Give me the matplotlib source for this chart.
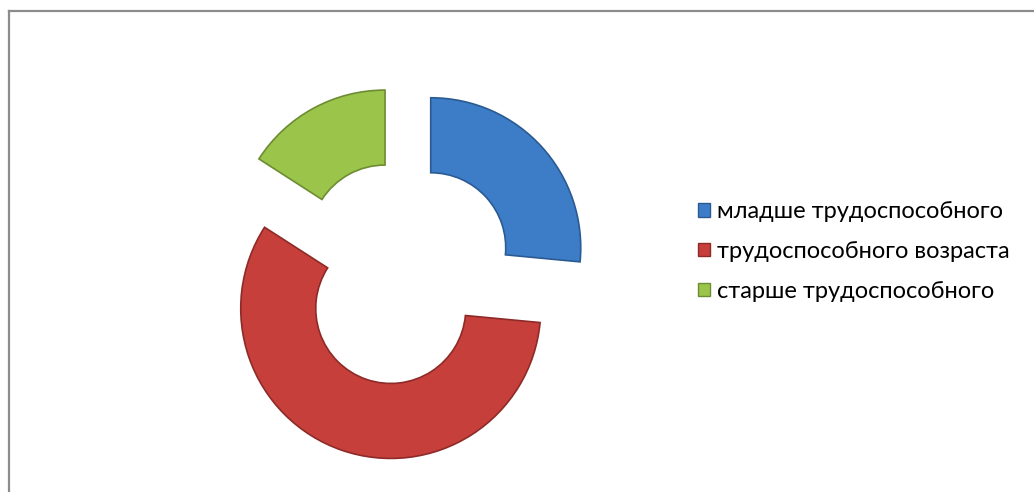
import matplotlib
matplotlib.use("Agg")
import matplotlib.pyplot as plt
from matplotlib.lines import Line2D

plt.rcParams['font.family'] = ['Lato', 'DejaVu Sans']

labels = ['младше трудоспособного', 'трудоспособного возраста', 'старше трудоспособного']
values = [26.5, 57.6, 15.9]
colors = ['#3d7dc8', '#c63f3b', '#9ac44a']
edges = ['#2b5a92', '#8e2a27', '#6d8c33']

fig = plt.figure(figsize=(10.34, 4.92), dpi=100)

# frame lines (top and left visible in the reference)
fig.add_artist(Line2D([9 / 1034, 1], [1 - 11 / 492, 1 - 11 / 492], color='#8c8c8c', lw=1.6))
fig.add_artist(Line2D([9 / 1034, 9 / 1034], [0, 1 - 11 / 492], color='#8c8c8c', lw=1.6))

# pie axes: centre at (403, 273) px, radius 150 px
cx, cy, r = 403, 273, 150
half = 200
ax = fig.add_axes([(cx - half) / 1034, (492 - cy - half) / 492, 2 * half / 1034, 2 * half / 492])

wedges, _ = ax.pie(values, colors=colors, startangle=90, counterclock=False,
                   explode=[0.25, 0.25, 0.25], radius=1,
                   wedgeprops=dict(width=0.5, linewidth=1.2))
for w, ec in zip(wedges, edges):
    w.set_edgecolor(ec)
# pie resets the limits, so set them afterwards
ax.set_xlim(-half / r, half / r)
ax.set_ylim(-half / r, half / r)
ax.axis('off')

handles = [plt.Rectangle((0, 0), 1, 1, facecolor=c, edgecolor=e, lw=1) for c, e in zip(colors, edges)]
fig.legend(handles, labels, loc='upper left', bbox_to_anchor=(677 / 1034, 1 - 180 / 492),
           frameon=False, fontsize=17, handlelength=0.5, handleheight=0.5,
           handletextpad=0.3, labelspacing=0.8)

fig.savefig('out.png', dpi=100, facecolor='white')
